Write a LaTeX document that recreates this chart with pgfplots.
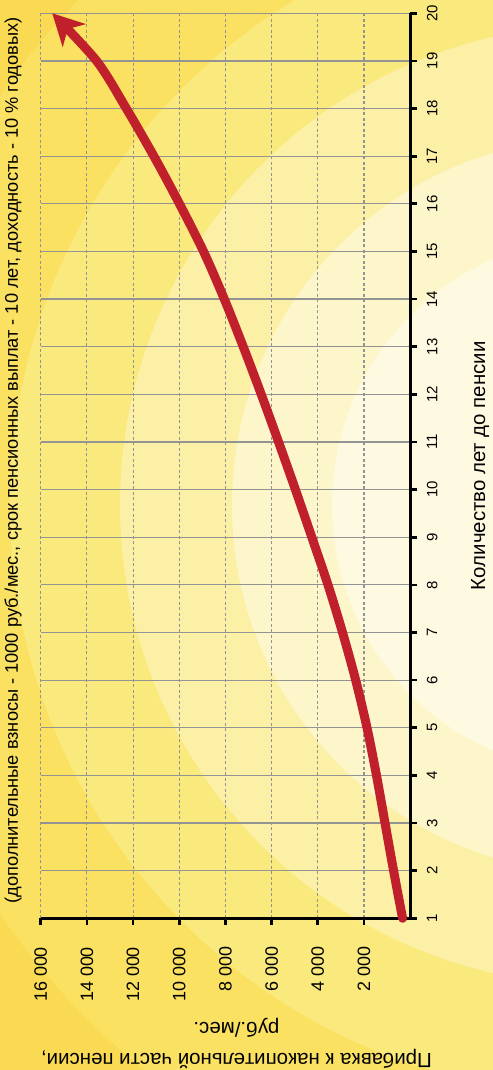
\documentclass[border=0pt]{standalone}
\usepackage{pgfplots}
\pgfplotsset{compat=1.18}
\usepackage{fontspec}
\setmainfont{Liberation Sans}
\usetikzlibrary{arrows.meta}
\definecolor{bg0}{HTML}{F9DA52}
\definecolor{bg1}{HTML}{FAE162}
\definecolor{bg2}{HTML}{FAE97C}
\definecolor{bg3}{HTML}{FCF0A6}
\definecolor{bg4}{HTML}{FDF6CA}
\definecolor{bg5}{HTML}{FEFAE2}
\definecolor{curvered}{HTML}{C0202C}
\definecolor{gridgray}{HTML}{939393}
\begin{document}
\begin{tikzpicture}
\begin{scope}[rotate=90, transform shape]
\path[use as bounding box] (-151.7bp,-82.8bp) rectangle (918.3bp,410.2bp);
\begin{scope}
\clip (-151.7bp,-82.8bp) rectangle (918.3bp,410.2bp);
\fill[bg0] (-151.7bp,-82.8bp) rectangle (918.3bp,410.2bp);
\fill[bg1] (413.3bp,-189.8bp) circle[radius=726bp];
\fill[bg2] (413.3bp,-189.8bp) circle[radius=590bp];
\fill[bg3] (413.3bp,-189.8bp) circle[radius=480bp];
\fill[bg4] (413.3bp,-189.8bp) circle[radius=368bp];
\fill[bg5] (413.3bp,-189.8bp) circle[radius=268bp];
\end{scope}
\begin{axis}[
  at={(0,0)}, anchor=south west,
  scale only axis, width=905bp, height=369.5bp,
  xmin=1, xmax=20, ymin=0, ymax=16000,
  xtick={1,...,20},
  ytick={2000,4000,...,16000},
  axis x line*=bottom, axis y line*=left,
  axis line style={line width=2.7bp, black},
  tick align=outside,
  major tick length=6.5bp,
  every tick/.style={line width=2.7bp, black},
  xmajorgrids, ymajorgrids,
  x grid style={gridgray, line width=1.2bp},
  y grid style={gridgray, line width=1.1bp, dash pattern=on 3bp off 2.5bp},
  scaled y ticks=false,
  /pgf/number format/1000 sep={\ },
  /pgf/number format/assume math mode=true,
  xticklabel style={font=\fontsize{15}{18}\selectfont, inner sep=0pt, anchor=north},
  xticklabel shift=10bp,
  yticklabel style={font=\fontsize{18}{21}\selectfont, inner sep=0pt, anchor=east},
  yticklabel shift=22bp,
  xlabel={Количество лет до пенсии},
  ylabel={Прибавка к накопительной части пенсии,\\руб./мес.},
  title={(дополнительные взносы - 1000 руб./мес., срок пенсионных выплат - 10 лет, доходность - 10 \% годовых)},
  xlabel style={at={(axis description cs:0.5,-0.189)}, anchor=center, font=\fontsize{20.5}{24}\selectfont},
  ylabel style={at={(axis description cs:-0.1381,0.47)}, anchor=center, align=center, font=\fontsize{20.5}{31}\selectfont},
  title style={at={(axis description cs:0.506,1.0587)}, anchor=center, font=\fontsize{18.3}{21}\selectfont},
  clip=false,
]
\addplot[curvered, line width=9bp, smooth, line cap=round,
  -{Stealth[length=31bp, width=32bp, inset=9bp]}] coordinates {
(1,330) (2,720) (3,1090) (4,1460) (5,1870) (6,2360) (7,2930) (8,3560)
(9,4260) (10,4970) (11,5700) (12,6450) (13,7230) (14,8050) (15,8950)
(16,9990) (17,11100) (18,12290) (19,13580) (20,15500)
};
\end{axis}
\end{scope}
\end{tikzpicture}
\end{document}
